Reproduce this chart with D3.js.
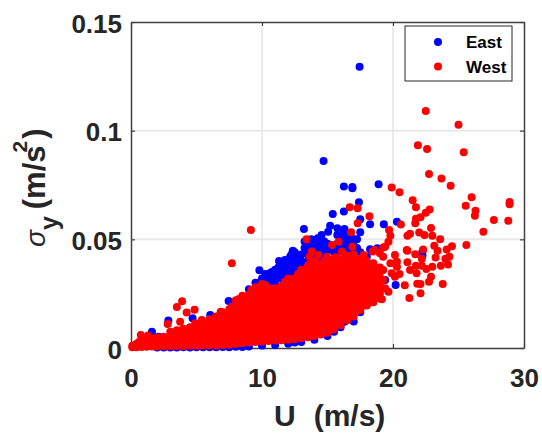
<!DOCTYPE html>
<html>
<head>
<meta charset="utf-8">
<script src="https://cdn.jsdelivr.net/npm/d3@7"></script>
<style>
  html, body { margin: 0; padding: 0; background: #fff; }
  text { font-family: "Liberation Sans", Arial, sans-serif; }
</style>
</head>
<body>
<div id="chart"></div>
<script>
const xTicks = [0, 10, 20, 30];
const yTicks = [0, 0.05, 0.1, 0.15];
const yTickLabels = ['0', '0.05', '0.1', '0.15'];
const legendNames = ['East', 'West'];

// East: points [U, sigma]
const eastPoints = [
  [17.45, .1294], [14.7, .086], [16.25, .0743], [16.9, .0741], [16.9, .0735], [18.9, .0754],
  [17.4, .0671], [16.25, .0628], [15.4, .0617], [17.5, .0592], [18.25, .0569], [19.3, .0569],
  [20.3, .0581], [13.2, .0548], [15.2, .0563], [15.75, .0551], [16.3, .0548], [15.05, .0535],
  [14.55, .052], [17.5, .0533], [16.2, .052], [13.85, .0489], [13.6, .0466], [14.4, .0466],
  [15.2, .0474], [16.2, .0497], [16.7, .0482], [17.1, .0456], [18.25, .0454], [18.8, .0459],
  [14.7, .0444], [15.7, .0451], [16.7, .0436], [13, .0397], [15.45, .039], [16.2, .0405],
  [13.4, .0374], [14.9, .0397], [14.4, .042], [14.05, .042], [20.2, .029], [19.4, .0313],
  [22.25, .0444], [22.25, .0425], [7.45, .0216], [8.3, .0224], [7.8, .0201], [9.8, .0358],
  [9.8, .03], [10.6, .0344], [11.1, .0359], [11.3, .04], [11.75, .0405], [12.15, .042],
  [12.35, .0448], [12.27, .0367], [10.85, .0313], [2.85, .0126], [1.6, .0075], [4.7, .0137],
  [6.05, .0152], [2.1, .0052], [7.2, .015], [15.2, .0092], [16.3, .0121], [17, .0122],
  [17.5, .0165]
];

// East: the packed part, one row per U [U, sigmas]
const eastRows = [
  [8.5, [.02, .023]], [9, [.024, .027]], [9.5, [.027, .03]], [10, [.029, .032]],
  [10.25, [.031, .034]], [10.5, [.03, .033]], [10.75, [.032, .035]], [11, [.03, .0335, .036]],
  [11.25, [.033, .037]], [11.5, [.032, .035, .0385]], [11.75, [.035, .038]],
  [12, [.033, .036, .04]], [12.25, [.036, .039, .043]], [12.5, [.035, .038, .041, .044]],
  [12.75, [.038, .042]], [13, [.037, .04, .043]], [13.25, [.046, .049]],
  [13.5, [.04, .043, .046]], [13.75, [.046, .05]], [14, [.042, .045, .048]],
  [14.25, [.044, .048, .0505]], [14.5, [.043, .046, .049]], [14.75, [.045, .049]],
  [15, [.045, .048]], [15.25, [.0455]], [15.5, [.044, .047]], [15.75, [.045, .048, .052]],
  [16, [.045, .048, .051]], [16.25, [.047, .054]], [16.5, [.046, .05]], [16.75, [.048, .052]],
  [17, [.044, .047, .05]], [17.25, [.046, .05]], [17.5, [.044]], [18, [.042]],
  [2, [.0002]], [2.5, [.0002]], [3, [.0002]], [3.5, [.0002]], [4, [.0003]], [4.5, [.0002]],
  [5, [.0003]], [5.5, [.0003]], [6, [.0004]], [6.5, [.0003]], [7, [.0005]], [7.5, [.0004]],
  [8, [.0006]], [8.5, [.0005]], [9, [.0007]], [10, [.0011]], [11, [.0014]], [12, [.002]],
  [12.5, [.0025]], [13, [.0028]], [14, [.0038]], [15, [.0055]], [15.5, [.0075]],
  [16, [.0095]], [18, [.02]]
];

// West: points [U, sigma]
const westPoints = [
  [22.5, .1091], [25, .1027], [21.9, .0933], [22.6, .0916], [25.4, .0901], [22.75, .0801],
  [23.7, .078], [24.4, .0747], [19.9, .0738], [20.5, .0717], [26, .0694], [28.9, .0672],
  [28.9, .0662], [21.5, .068], [21.75, .0648], [25.55, .0654], [22.8, .0637], [26.3, .0631],
  [26.25, .0609], [22.5, .0622], [22.1, .0602], [21.75, .0595], [21.7, .0574], [27.7, .0589],
  [28.8, .0585], [20.6, .0568], [22.9, .0552], [26.9, .0535], [19.7, .0543], [21.3, .0526],
  [21.1, .0517], [22, .0531], [22.4, .052], [23, .0517], [23.6, .05], [19.8, .0517],
  [19.65, .0489], [25.6, .0474], [24.5, .0468], [24.1, .0453], [23.15, .047], [23.4, .0447],
  [22.3, .0453], [21.1, .0447], [21.7, .0431], [24.3, .042], [24, .0411], [23.25, .0416],
  [22.2, .0411], [24.2, .0384], [23.65, .0378], [23, .0374], [22.55, .0364], [22.2, .0379],
  [21.75, .0378], [21.1, .0394], [21.3, .0359], [21.8, .0344], [22.9, .0328], [22.75, .0305],
  [23.8, .0295], [22.1, .0295], [21.85, .0296], [22.1, .0252], [21.25, .023], [20.9, .0289],
  [20.5, .0341], [20.15, .0428], [20.3, .0397], [19.8, .039], [20.3, .0374], [19.9, .0344],
  [20.15, .0328], [19.4, .0466], [19.25, .042], [19.25, .0359], [19.25, .0313], [19.65, .0259],
  [19.15, .0224], [19.4, .0275], [16.7, .0648], [17.3, .0643], [18.2, .0606], [17.3, .0574],
  [16.8, .0533], [15.85, .0489], [15.35, .0474], [16.9, .0466], [13.4, .05], [19.25, .0462],
  [18.6, .0451], [13.8, .0444], [13.65, .042], [14.3, .0428], [14.95, .042], [15.6, .0418],
  [16.1, .0444], [16.35, .0428], [17.75, .0428], [18.45, .0444], [19, .0436], [21.05, .0451],
  [9.15, .0543], [7.7, .039], [3.9, .0215], [3.5, .0189], [4.85, .0176], [4.25, .0163],
  [3.75, .0121], [2.8, .0111], [.75, .006], [1.3, .0057], [4.9, .0114], [5.4, .0129],
  [3, .0075], [6.85, .0167], [6.3, .0129], [9.2, .0267], [10, .0295], [11, .0275],
  [11.9, .0305], [13, .0331], [13.55, .0382], [7.7, .019], [7.3, .0152]
];

// West: the packed band, one row per U [U, sigmas]
const westRows = [
  [.1, [.0003, .001]], [.4, [.0004, .0018]], [.8, [.0005, .0022, .0035]],
  [1.2, [.0006, .0024, .0042]], [1.6, [.0007, .0026, .0044]], [2, [.0007, .0028, .0048]],
  [2.5, [.0008, .003, .0052]], [3, [.0008, .0032, .0058]], [3.5, [.0009, .0035, .0062, .0082]],
  [4, [.0009, .0036, .0064, .0088]], [4.5, [.001, .0038, .0068, .0095]],
  [5, [.001, .004, .0072, .0104]], [5.5, [.0011, .0042, .0074, .0106, .0118]],
  [6, [.0012, .0044, .0076, .0108, .0132]], [6.5, [.0012, .0046, .0078, .0112, .0145]],
  [7, [.0014, .0048, .008, .0112, .0144, .0165]], [7.5, [.0015, .005, .0082, .0114, .0146, .0178]],
  [8, [.0018, .0052, .0084, .0116, .0148, .018, .022]],
  [8.5, [.0022, .0055, .0088, .012, .0152, .0184, .0216, .024]],
  [9, [.0025, .0058, .009, .0122, .0154, .0186, .0218, .0245]],
  [9.5, [.0028, .006, .0092, .0124, .0156, .0188, .022, .0252, .028]],
  [10, [.003, .0062, .0094, .0126, .0158, .019, .0222, .0254, .0285]],
  [10.5, [.0032, .0064, .0096, .0128, .016, .0192, .0224, .0256, .0275]],
  [11, [.0035, .0066, .0098, .013, .0162, .0194, .0226, .0258]],
  [11.5, [.0036, .0068, .01, .0132, .0164, .0196, .0228, .026, .0285]],
  [12, [.0038, .007, .0102, .0134, .0166, .0198, .023, .0262, .0294, .032]],
  [12.5, [.004, .0072, .0104, .0136, .0168, .02, .0232, .0264, .0296, .032]],
  [13, [.0045, .0076, .0108, .014, .0172, .0204, .0236, .0268, .03, .0332, .036]],
  [13.5, [.005, .008, .0112, .0144, .0176, .0208, .024, .0272, .0304, .0336, .0375]],
  [14, [.0055, .0085, .0116, .0148, .018, .0212, .0244, .0276, .0308, .034, .0372, .04]],
  [14.5, [.0062, .009, .012, .0152, .0184, .0216, .0248, .028, .0312, .0344, .0376]],
  [15, [.007, .0098, .0126, .0158, .019, .0222, .0254, .0286, .0318, .035, .038]],
  [15.5, [.0085, .0112, .014, .017, .02, .0232, .0264, .0296, .0328, .036, .039]],
  [16, [.0105, .0128, .0155, .0185, .0215, .0245, .0275, .0305, .0335, .0365, .0395]],
  [16.5, [.0128, .015, .0175, .02, .023, .026, .029, .032, .035, .038, .041]],
  [17, [.0145, .017, .0195, .022, .025, .028, .031, .034, .037, .04, .043]],
  [17.5, [.0175, .0195, .022, .0245, .0272, .03, .033, .036, .039, .041]],
  [18, [.0195, .0215, .024, .0265, .029, .032, .035, .038, .04]],
  [18.5, [.021, .0235, .026, .0285, .031, .034, .037, .039]],
  [19, [.0228, .025, .0275, .03, .0325, .035, .037]],
  // in-between rows, the cloud has no holes in it
  [.6, [.0012, .0028]], [1, [.0014, .003]], [1.4, [.0015, .0033]], [1.8, [.0017, .0036]],
  [2.25, [.0018, .004]], [2.75, [.002, .0045]], [3.25, [.0021, .0048, .007]],
  [3.75, [.0022, .005, .0075]], [4.25, [.0023, .0052, .008]], [4.75, [.0024, .0054, .0083]],
  [5.25, [.0026, .0056, .0088]], [5.75, [.0027, .0058, .009, .0112]],
  [6.25, [.0028, .006, .0092, .0125]], [6.75, [.003, .0064, .0096, .0128, .015]],
  [7.25, [.0032, .0065, .0098, .013, .016]], [7.75, [.0034, .0066, .01, .0132, .0164, .019]],
  [8.25, [.0036, .007, .0102, .0134, .0166, .0198, .0225]],
  [8.75, [.004, .0072, .0104, .0136, .0168, .02, .0232]],
  [9.25, [.0042, .0074, .0106, .0138, .017, .0202, .0234, .026]],
  [9.75, [.0046, .0078, .011, .0142, .0174, .0206, .0238, .027]],
  [10.25, [.0048, .008, .0112, .0144, .0176, .0208, .024, .0272, .029]],
  [10.75, [.005, .0082, .0114, .0146, .0178, .021, .0242, .0268]],
  [11.25, [.0052, .0084, .0116, .0148, .018, .0212, .0244, .0275]],
  [11.75, [.0054, .0086, .0118, .015, .0182, .0214, .0246, .0278, .0305]],
  [12.25, [.0056, .0088, .012, .0152, .0184, .0216, .0248, .028, .031]],
  [12.75, [.006, .0092, .0122, .0154, .0186, .0218, .025, .0282, .0314, .034]],
  [13.25, [.0062, .0094, .0126, .0158, .019, .0222, .0254, .0286, .0318, .035]],
  [13.75, [.0068, .0098, .013, .0162, .0194, .0226, .0258, .029, .0322, .0354, .039]],
  [14.25, [.0074, .0104, .0134, .0166, .0198, .023, .0262, .0294, .0326, .0358, .039]],
  [14.75, [.008, .011, .014, .017, .0202, .0234, .0266, .0298, .033, .0362, .04]],
  [15.25, [.0098, .0125, .0152, .0182, .0212, .0244, .0276, .0308, .034, .0372, .0405]],
  [15.75, [.0115, .014, .0168, .0198, .0228, .0258, .029, .032, .035, .038, .0415]],
  [16.25, [.014, .0165, .019, .0215, .0245, .0275, .0305, .0335, .0365, .0395]],
  [16.75, [.0155, .018, .0205, .023, .0265, .0295, .0325, .0355, .0385, .0425]],
  [17.25, [.017, .0195, .0222, .025, .028, .031, .034, .037, .04]],
  [17.75, [.0195, .0215, .024, .0265, .0295, .0325, .0355, .0385]],
  [18.25, [.021, .023, .0255, .028, .0305, .0335, .0365]],
  [18.75, [.0235, .026, .0285, .031, .0335, .036]]
];

const width = 542;
const height = 435;
const margin = { top: 22, right: 18, bottom: 87, left: 131 };
const tickColor = '#262626';
const dotR = 4;

const x = d3.scaleLinear().domain([0, 30]).range([margin.left, width - margin.right]);
const y = d3.scaleLinear().domain([0, 0.15]).range([height - margin.bottom, margin.top]);

const flatten = rows => rows.flatMap(r => r[1].map(s => [r[0], s]));
const east = flatten(eastRows).concat(eastPoints);
const west = flatten(westRows).concat(westPoints);

const svg = d3.select('#chart').append('svg')
  .attr('width', width)
  .attr('height', height)
  .style('display', 'block');

// grid
svg.append('g').selectAll('line')
  .data(xTicks.slice(1, -1))
  .enter().append('line')
  .attr('x1', d => x(d)).attr('x2', d => x(d))
  .attr('y1', y(0)).attr('y2', y(0.15))
  .attr('stroke', '#e4e4e4').attr('stroke-width', 1.5);

svg.append('g').selectAll('line')
  .data(yTicks.slice(1, -1))
  .enter().append('line')
  .attr('x1', x(0)).attr('x2', x(30))
  .attr('y1', d => y(d)).attr('y2', d => y(d))
  .attr('stroke', '#e8e8e8').attr('stroke-width', 2);

// axes, ticks point inward like matlab
const styleAxis = g => {
  g.selectAll('path').attr('stroke', '#404040').attr('stroke-width', 1.5);
  g.selectAll('line').attr('stroke', '#404040').attr('stroke-width', 1.2);
  g.selectAll('text')
    .attr('fill', tickColor)
    .style('font-size', '26px')
    .style('font-weight', 'bold')
    .style('font-family', '"Liberation Sans", Arial, sans-serif');
};

svg.append('g')
  .attr('transform', `translate(0,${y(0)})`)
  .call(d3.axisBottom(x).tickValues(xTicks).tickSizeInner(-4).tickSizeOuter(0).tickPadding(20.5).tickFormat(d3.format('d')))
  .call(styleAxis);

svg.append('g')
  .attr('transform', `translate(${x(0)},0)`)
  .call(d3.axisLeft(y).tickValues(yTicks).tickSizeInner(-4).tickSizeOuter(0).tickPadding(9).tickFormat((d, i) => yTickLabels[i]))
  .call(styleAxis)
  .call(g => g.selectAll('text').attr('y', 2));

svg.append('g')
  .attr('transform', `translate(0,${y(0.15)})`)
  .call(d3.axisTop(x).tickValues(xTicks).tickSizeInner(-4).tickSizeOuter(0).tickFormat(''))
  .call(styleAxis);

svg.append('g')
  .attr('transform', `translate(${x(30)},0)`)
  .call(d3.axisRight(y).tickValues(yTicks).tickSizeInner(-4).tickSizeOuter(0).tickFormat(''))
  .call(styleAxis);

// points, west goes over east
svg.append('g').selectAll('circle')
  .data(east)
  .enter().append('circle')
  .attr('cx', d => x(d[0])).attr('cy', d => y(d[1]))
  .attr('r', dotR).attr('fill', '#0000ff');

svg.append('g').selectAll('circle')
  .data(west)
  .enter().append('circle')
  .attr('cx', d => x(d[0])).attr('cy', d => y(d[1]))
  .attr('r', dotR).attr('fill', '#ff0000');

// axis titles
const xTitle = svg.append('text')
  .attr('x', 274).attr('y', 426)
  .attr('fill', tickColor)
  .style('font-size', '30px').style('font-weight', 'bold');
xTitle.append('tspan').text('U');
xTitle.append('tspan').attr('dx', 18).text('(m/s)');

const yTitle = svg.append('text')
  .attr('transform', 'translate(45,247) rotate(-90)')
  .attr('fill', tickColor)
  .style('font-size', '31px').style('font-weight', 'bold');
yTitle.append('tspan').style('font-style', 'italic').style('font-weight', 'normal').style('font-size', '28px').text('σ');
yTitle.append('tspan').attr('dy', 13).style('font-size', '25px').text('y');
yTitle.append('tspan').attr('dy', -13).attr('dx', 7).text('(m/s');
yTitle.append('tspan').attr('dy', -18).attr('dx', -7).style('font-size', '21px').text('2');
yTitle.append('tspan').attr('dy', 18).attr('dx', 2).text(')');

// legend
const legend = svg.append('g');
legend.append('rect')
  .attr('x', 405).attr('y', 26).attr('width', 107).attr('height', 55)
  .attr('fill', '#fff').attr('stroke', '#262626').attr('stroke-width', 1);

const legendRow = legend.selectAll('g')
  .data(legendNames)
  .enter().append('g')
  .attr('transform', (d, i) => `translate(0,${42 + i * 24.5})`);

legendRow.append('circle')
  .attr('cx', 438).attr('cy', 0).attr('r', dotR)
  .attr('fill', (d, i) => i === 0 ? '#0000ff' : '#ff0000');

legendRow.append('text')
  .attr('x', 466).attr('y', 6)
  .attr('fill', '#000')
  .style('font-size', '17px').style('font-weight', 'bold')
  .text(d => d);
</script>
</body>
</html>
